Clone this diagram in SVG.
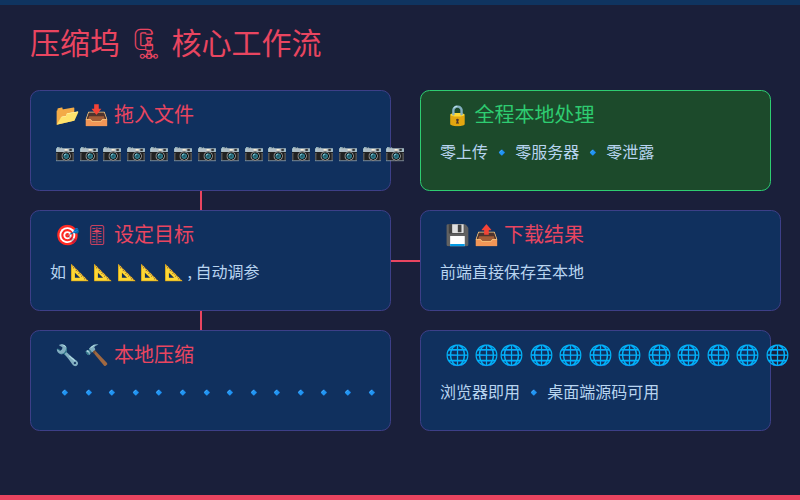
<svg xmlns="http://www.w3.org/2000/svg" width="800" height="500" viewBox="0 0 800 500">
<style>
.card{fill:#10305e;stroke:#3d3f88;stroke-width:1}
.green{fill:#1c4a2b;stroke:#2ecc71;stroke-width:1}
.t{font-family:"Noto Sans CJK SC","Noto Sans",sans-serif;font-size:20px;fill:#e94560}
.tg{font-family:"Noto Sans CJK SC","Noto Sans",sans-serif;font-size:20px;fill:#2ecc71}
.b{font-family:"Noto Sans CJK SC","Noto Sans",sans-serif;font-size:16px;fill:#b8d4f0}
.conn{stroke:#e94560;stroke-width:2;fill:none}
</style>
<rect width="800" height="500" fill="#1a1f3a"/>
<rect width="800" height="5" fill="#0f3460"/>
<rect y="495" width="800" height="5" fill="#e94560"/>
<text x="30" y="54" font-family="Noto Sans CJK SC,sans-serif" font-size="30" fill="#e94560">压缩坞 🗜 核心工作流</text>
<g id="connectors">
<line class="conn" x1="201" y1="190" x2="201" y2="211"/>
<line class="conn" x1="201" y1="310" x2="201" y2="331"/>
<line class="conn" x1="390" y1="261" x2="421" y2="261"/>
</g>
<g id="n1"><rect class="card" x="30.5" y="90.5" width="360" height="100" rx="9"/>
<text class="t" x="55" y="122">📂 📥 拖入文件</text>
<text class="b" x="55" y="158" font-size="14">📷 📷 📷 📷 📷 📷 📷 📷 📷 📷 📷 📷 📷 📷 📷</text></g>
<g id="n2"><rect class="card" x="30.5" y="210.5" width="360" height="100" rx="9"/>
<text class="t" x="55" y="242">🎯 🎚 设定目标</text>
<text class="b" x="50" y="278">如 📐 📐 📐 📐 📐 , 自动调参</text></g>
<g id="n3"><rect class="card" x="30.5" y="330.5" width="360" height="100" rx="9"/>
<text class="t" x="55" y="362">🔧 🔨 本地压缩</text>
<text class="b" x="55" y="398">🔹 🔹 🔹 🔹 🔹 🔹 🔹 🔹 🔹 🔹 🔹 🔹 🔹 🔹</text></g>
<g id="n4"><rect class="green" x="420.5" y="90.5" width="350" height="100" rx="9"/>
<text class="tg" x="445" y="122">🔒 全程本地处理</text>
<text class="b" x="440" y="158">零上传 🔹 零服务器 🔹 零泄露</text></g>
<g id="n5"><rect class="card" x="420.5" y="210.5" width="360" height="100" rx="9"/>
<text class="t" x="445" y="242">💾 📤 下载结果</text>
<text class="b" x="440" y="278">前端直接保存至本地</text></g>
<g id="n6"><rect class="card" x="420.5" y="330.5" width="350" height="100" rx="9"/>
<text class="t" x="445" y="362" font-size="16">🌐 🌐🌐 🌐 🌐 🌐 🌐 🌐 🌐 🌐 🌐 🌐</text>
<text class="b" x="440" y="398">浏览器即用 🔹 桌面端源码可用</text></g>
</svg>
